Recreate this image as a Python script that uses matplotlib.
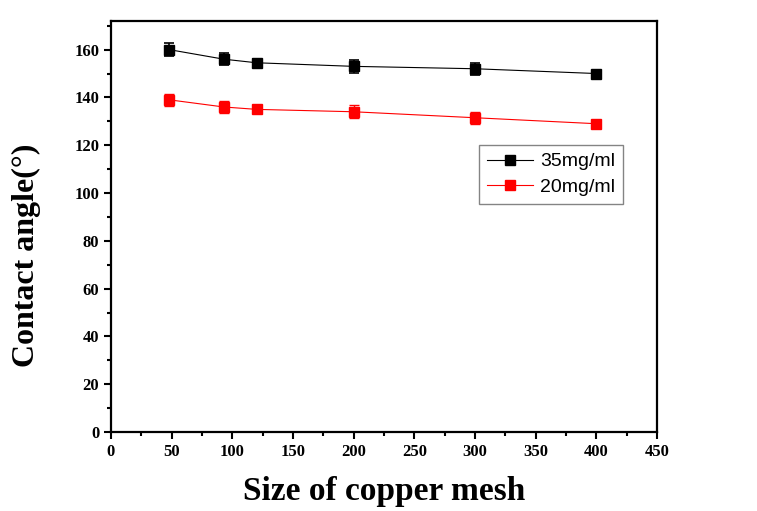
import numpy as np
import matplotlib
matplotlib.use("Agg")
import matplotlib.pyplot as plt
from matplotlib.ticker import MultipleLocator
from matplotlib.lines import Line2D

# mesh sizes and measured contact angles
mesh = [48, 93, 120, 200, 300, 400]
angle_35 = [160, 156, 154.5, 153, 152, 150]
err_35 = [2.8, 2.6, 1.5, 2.7, 2.6, 1.2]
angle_20 = [139, 136, 135, 134, 131.5, 129]
err_20 = [2.6, 2.6, 1.2, 2.7, 2.6, 1.0]
labels = ["35mg/ml", "20mg/ml"]
colors = ["black", "red"]

fig = plt.figure(figsize=(7.57, 5.11), dpi=100)
ax = fig.add_axes([0.1466, 0.1546, 0.7213, 0.8044])

ax.errorbar(mesh, angle_35, yerr=err_35, color=colors[0], marker="s", ms=6.5,
            lw=0.8, elinewidth=1.2, capsize=3.5, capthick=1.2)
ax.errorbar(mesh, angle_20, yerr=err_20, color=colors[1], marker="s", ms=6.5,
            lw=0.8, elinewidth=1.0, capsize=3.5, capthick=1.0)

ax.set_xlim(0, 450)
ax.set_ylim(0, 172)
ax.xaxis.set_major_locator(MultipleLocator(50))
ax.xaxis.set_minor_locator(MultipleLocator(25))
ax.yaxis.set_major_locator(MultipleLocator(20))
ax.yaxis.set_minor_locator(MultipleLocator(10))
ax.tick_params(which="both", direction="out", width=1.5, top=False, right=False)
ax.tick_params(which="major", length=5)
ax.tick_params(which="minor", length=3)
for s in ax.spines.values():
    s.set_linewidth(1.6)

for lab in ax.get_xticklabels() + ax.get_yticklabels():
    lab.set_family("Liberation Serif")
    lab.set_fontweight("bold")
    lab.set_fontsize(12)

ax.set_xlabel("Size of copper mesh", family="Liberation Serif",
              fontweight="bold", fontsize=24, labelpad=12)
ax.set_ylabel("Contact angle(°)", family="Liberation Serif",
              fontweight="bold", fontsize=23)
ax.yaxis.set_label_coords(-0.128, 0.43)

handles = [Line2D([], [], color=c, marker="s", ms=6.5, lw=0.8) for c in colors]
leg = ax.legend(handles, labels, loc="upper left", bbox_to_anchor=(0.674, 0.698),
                prop={"family": "Liberation Sans", "size": 14},
                fancybox=False, edgecolor="0.4", handlelength=2.4,
                borderpad=0.4, labelspacing=0.4, handletextpad=0.35,
                borderaxespad=0)
leg.get_frame().set_linewidth(1.0)

fig.savefig("out.png", dpi=100)
